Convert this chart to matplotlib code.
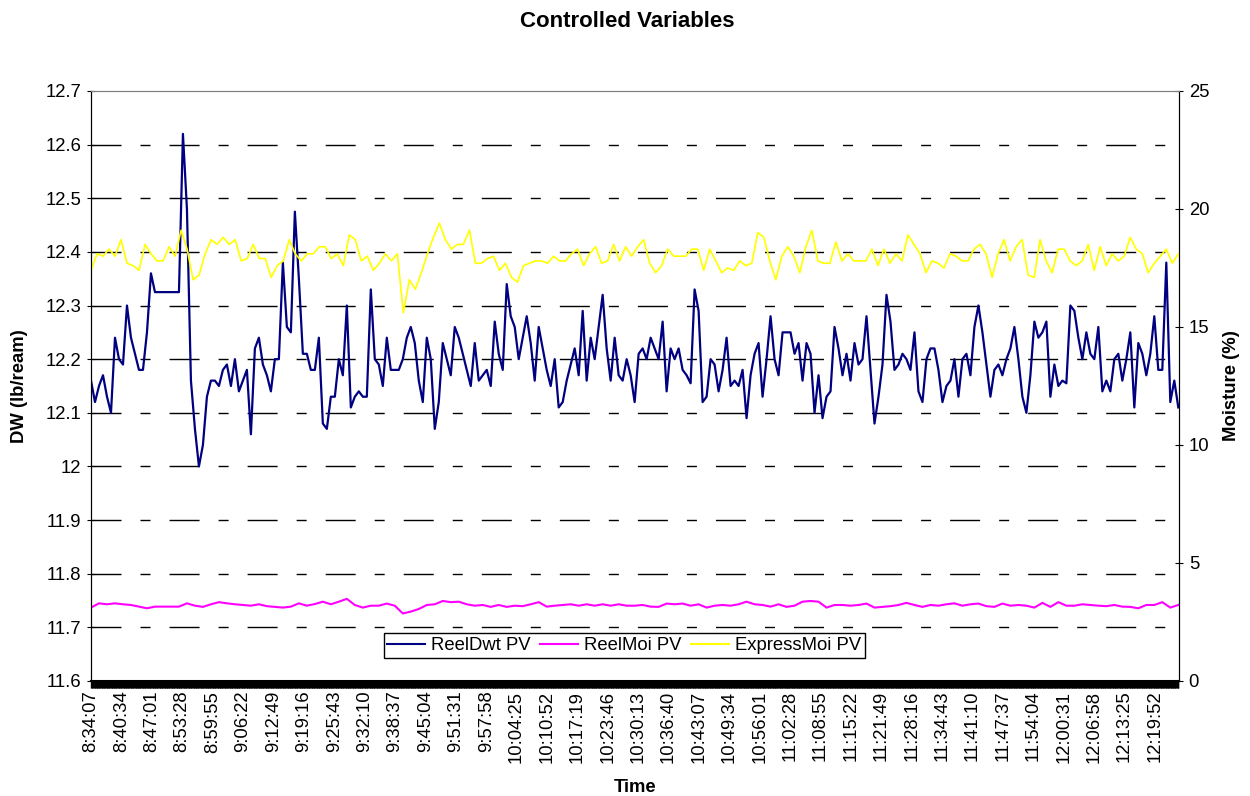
import numpy as np
import matplotlib
matplotlib.use("Agg")
import matplotlib.pyplot as plt
from matplotlib.ticker import FixedLocator, MultipleLocator

# ==============================
# DATA
# ==============================
time_labels = ["8:34:07", "8:40:34", "8:47:01", "8:53:28", "8:59:55", "9:06:22",
               "9:12:49", "9:19:16", "9:25:43", "9:32:10", "9:38:37", "9:45:04",
               "9:51:31", "9:57:58", "10:04:25", "10:10:52", "10:17:19", "10:23:46",
               "10:30:13", "10:36:40", "10:43:07", "10:49:34", "10:56:01", "11:02:28",
               "11:08:55", "11:15:22", "11:21:49", "11:28:16", "11:34:43", "11:41:10",
               "11:47:37", "11:54:04", "12:00:31", "12:06:58", "12:13:25", "12:19:52"]
label_every = 43      # samples between time labels (9 s samples)
n_samples = 1539

# ReelDwt PV (lb/ream), left axis
reel_dwt = [
    12.16, 12.12, 12.15, 12.17, 12.13, 12.10, 12.24, 12.20, 12.19, 12.30,
    12.24, 12.21, 12.18, 12.18, 12.25, 12.36, 12.325, 12.325, 12.325, 12.325,
    12.325, 12.325, 12.325, 12.62, 12.48, 12.16, 12.07, 12.00, 12.04, 12.13,
    12.16, 12.16, 12.15, 12.18, 12.19, 12.15, 12.20, 12.14, 12.16, 12.18,
    12.06, 12.22, 12.24, 12.19, 12.17, 12.14, 12.20,
    12.20, 12.38, 12.26, 12.25, 12.475, 12.35, 12.21, 12.21, 12.18, 12.18,
    12.24, 12.08, 12.07, 12.13, 12.13, 12.20, 12.17, 12.30, 12.11, 12.13,
    12.14, 12.13, 12.13, 12.33, 12.20, 12.19, 12.15, 12.24, 12.18, 12.18,
    12.18, 12.20, 12.24, 12.26, 12.23, 12.16, 12.12, 12.24, 12.20, 12.07,
    12.12, 12.23, 12.20, 12.17, 12.26, 12.24,
    12.21, 12.18, 12.15, 12.23, 12.16, 12.17, 12.18, 12.15, 12.27, 12.21,
    12.18, 12.34, 12.28, 12.26, 12.20, 12.24, 12.28, 12.23, 12.16, 12.26,
    12.22, 12.18, 12.15, 12.20, 12.11, 12.12, 12.16, 12.19, 12.22, 12.17,
    12.29, 12.16, 12.24, 12.20, 12.26, 12.32, 12.22, 12.16, 12.24, 12.17,
    12.16, 12.20, 12.17, 12.12, 12.21, 12.22,
    12.20, 12.24, 12.22, 12.20, 12.27, 12.14, 12.22, 12.20, 12.22, 12.18,
    12.17, 12.155, 12.33, 12.29, 12.12, 12.13, 12.20, 12.19, 12.14, 12.18,
    12.24, 12.15, 12.16, 12.15, 12.18, 12.09, 12.17, 12.21, 12.23, 12.13,
    12.20, 12.28, 12.20, 12.17, 12.25, 12.25, 12.25, 12.21, 12.23, 12.16,
    12.23, 12.21, 12.10, 12.17, 12.09, 12.13,
    12.14, 12.26, 12.22, 12.17, 12.21, 12.16, 12.23, 12.19, 12.20, 12.28,
    12.18, 12.08, 12.13, 12.19, 12.32, 12.27, 12.18, 12.19, 12.21, 12.20,
    12.18, 12.25, 12.14, 12.12, 12.20, 12.22, 12.22, 12.18, 12.12, 12.15,
    12.16, 12.20, 12.13, 12.20, 12.21, 12.17, 12.26, 12.30, 12.25, 12.19,
    12.13, 12.18, 12.19, 12.17, 12.20, 12.22, 12.26,
    12.20, 12.13, 12.10, 12.17, 12.27, 12.24, 12.25, 12.27, 12.13, 12.19,
    12.15, 12.16, 12.155, 12.30, 12.29, 12.24, 12.20, 12.25, 12.21, 12.20,
    12.26, 12.14, 12.16, 12.14, 12.20, 12.21, 12.16, 12.20, 12.25, 12.11,
    12.23, 12.21, 12.17, 12.21, 12.28, 12.18, 12.18, 12.38, 12.12, 12.16,
    12.11,
]

# ReelMoi PV (%), right axis
reel_moi = [
    3.11, 3.29, 3.25, 3.29, 3.25, 3.22, 3.15, 3.08, 3.15, 3.15,
    3.15, 3.15, 3.29, 3.19, 3.14, 3.25, 3.34, 3.29, 3.25, 3.22,
    3.19, 3.25, 3.17, 3.14, 3.11, 3.15, 3.29, 3.19, 3.26, 3.36,
    3.25, 3.36, 3.48, 3.22, 3.11, 3.19, 3.19, 3.28, 3.19, 2.86,
    2.94, 3.05, 3.22, 3.25, 3.39, 3.34, 3.36, 3.25, 3.19, 3.22,
    3.14, 3.22, 3.14, 3.19, 3.17, 3.25, 3.34, 3.15, 3.19, 3.22,
    3.25, 3.19, 3.25, 3.19, 3.25, 3.19, 3.25, 3.19, 3.19,
    3.22, 3.15, 3.14, 3.28, 3.25, 3.28, 3.19, 3.25, 3.11, 3.19,
    3.22, 3.19, 3.25, 3.36, 3.25, 3.22, 3.15, 3.25, 3.14, 3.19,
    3.36, 3.39, 3.36, 3.11, 3.22, 3.22, 3.19, 3.22, 3.28, 3.11,
    3.14, 3.17, 3.22, 3.31, 3.22, 3.14, 3.22, 3.19, 3.25, 3.29,
    3.19, 3.25, 3.28, 3.17, 3.14, 3.28, 3.19, 3.22, 3.19, 3.11,
    3.31, 3.14, 3.34, 3.19, 3.19, 3.25, 3.22, 3.19, 3.17, 3.22,
    3.15, 3.14, 3.08, 3.22, 3.22, 3.34, 3.11, 3.22,
]

# ExpressMoi PV (%), right axis
express_moi = [
    17.4, 18.1, 18.0, 18.3, 18.0, 18.7, 17.7, 17.6, 17.4, 18.5,
    18.1, 17.8, 17.8, 18.4, 18.0, 19.1, 18.3, 17.0, 17.2, 18.1,
    18.7, 18.5, 18.8, 18.5, 18.7, 17.8, 17.9, 18.5, 17.9, 17.9,
    17.1, 17.6,
    17.8, 18.7, 18.1, 17.8, 18.1, 18.1, 18.4, 18.4, 17.9, 18.1,
    17.6, 18.9, 18.7, 17.8, 18.0, 17.4, 17.7, 18.1, 17.8, 18.1,
    15.6, 17.0, 16.6, 17.3, 18.1, 18.8, 19.4, 18.7, 18.3, 18.5,
    18.5, 19.1, 17.7, 17.7, 17.9, 18.0, 17.4, 17.7, 17.1, 16.9,
    17.6, 17.7, 17.8, 17.8, 17.7, 18.0, 17.8, 17.8, 18.1, 18.3,
    17.6, 18.1, 18.4, 17.7, 17.8, 18.5, 17.8, 18.4, 18.0, 18.4,
    18.7,
    17.7, 17.3, 17.6, 18.3, 18.0, 18.0, 18.0, 18.3, 18.3, 17.4,
    18.3, 17.8, 17.3, 17.5, 17.4, 17.8, 17.6, 17.7, 19.0, 18.8,
    17.8, 17.0, 18.0, 18.4, 18.0, 17.3, 18.4, 19.1, 17.8, 17.7,
    17.7,
    18.6, 17.8, 18.1, 17.8, 17.8, 17.8, 18.3, 17.6, 18.3, 17.7,
    18.1, 17.8, 18.9, 18.5, 18.1, 17.3, 17.8, 17.7, 17.5, 18.1,
    18.0, 17.8, 17.8, 18.3, 18.5, 18.1, 17.1, 18.1, 18.7, 17.8,
    18.4,
    18.7, 17.2, 17.1, 18.7, 17.8, 17.3, 18.3, 18.3, 17.8, 17.6,
    17.8, 18.5, 17.4, 18.4, 17.6, 18.1, 17.8, 18.0, 18.8, 18.3,
    18.1, 17.3, 17.7, 18.0, 18.3, 17.7, 18.1,
]

# ==============================
# FIGURE
# ==============================
plt.rcParams['font.family'] = ['Liberation Sans', 'DejaVu Sans']
fs = 13.3

fig = plt.figure(figsize=(12.5, 7.96), dpi=100)
ax = fig.add_axes([0.0728, 0.1445, 0.8704, 0.7412])
ax2 = ax.twinx()

x_dwt = np.linspace(0, n_samples - 1, len(reel_dwt))
x_moi = np.linspace(0, n_samples - 1, len(reel_moi))
x_exp = np.linspace(0, n_samples - 1, len(express_moi))

ax.plot(x_dwt, reel_dwt, color="#000080", lw=1.6, zorder=3)
ax2.plot(x_moi, reel_moi, color="#FF00FF", lw=1.5)
ax2.plot(x_exp, express_moi, color="#FFFF00", lw=1.2)

# --------------------------
# AXES
# --------------------------
ax.set_xlim(0, n_samples)
ax.set_ylim(11.6, 12.7)
ax2.set_ylim(0, 25)

ax.yaxis.set_major_locator(MultipleLocator(0.1))
ax.set_yticklabels([f"{v:g}" for v in np.round(ax.get_yticks(), 1)])
ax2.yaxis.set_major_locator(MultipleLocator(5))

tick_pos = np.arange(len(time_labels)) * label_every
ax.xaxis.set_major_locator(FixedLocator(tick_pos))
ax.set_xticklabels(time_labels, rotation=90, fontsize=fs)
ax.xaxis.set_minor_locator(FixedLocator(np.arange(0, n_samples, 1)))
ax.tick_params(axis="x", which="both", length=5, width=1, pad=2, color="black")

ax.tick_params(axis="y", labelsize=fs, length=6, direction="inout", pad=4)
ax2.tick_params(axis="y", labelsize=fs, length=6, direction="inout", pad=4)

# dashed grid like the Excel chart
for v in np.arange(11.7, 12.65, 0.1):
    ax.axhline(v, color="black", lw=1, ls=(0, (21.6, 13.7, 7.2, 13.7)), zorder=1)

for sp in ["left", "right", "bottom"]:
    ax2.spines[sp].set_color("black")
ax2.spines["top"].set_color("#808080")
ax.spines["top"].set_color("#808080")
ax.spines["bottom"].set_linewidth(1.5)

# --------------------------
# LABELS
# --------------------------
ax.set_xlabel("Time", fontsize=fs, fontweight="bold")
ax.xaxis.set_label_coords(0.5, -0.18)
ax.xaxis.label.set_va("center")
ax.set_ylabel("DW (lb/ream)", fontsize=fs, fontweight="bold")
ax.yaxis.set_label_coords(-0.0653, 0.5)
ax.yaxis.label.set_va("center")
ax2.set_ylabel("Moisture (%)", fontsize=fs, fontweight="bold")
ax2.yaxis.set_label_coords(1.0487, 0.5)
ax2.yaxis.label.set_va("center")

fig.text(0.502, 0.9724, "Controlled Variables", fontsize=16, fontweight="bold",
         ha="center", va="center")

# --------------------------
# LEGEND
# --------------------------
handles = [plt.Line2D([], [], color="#000080", lw=1.5),
           plt.Line2D([], [], color="#FF00FF", lw=1.5),
           plt.Line2D([], [], color="#FFFF00", lw=1.5)]
leg = ax2.legend(handles, ["ReelDwt PV", "ReelMoi PV", "ExpressMoi PV"],
                 loc="center", bbox_to_anchor=(0.49, 0.06), ncol=3,
                 fontsize=fs, frameon=True, fancybox=False, framealpha=1,
                 edgecolor="black", handlelength=2.05, handletextpad=0.3,
                 columnspacing=0.55, borderpad=0.2, borderaxespad=0)
leg.get_frame().set_linewidth(1)

fig.savefig("out.png", dpi=100)
